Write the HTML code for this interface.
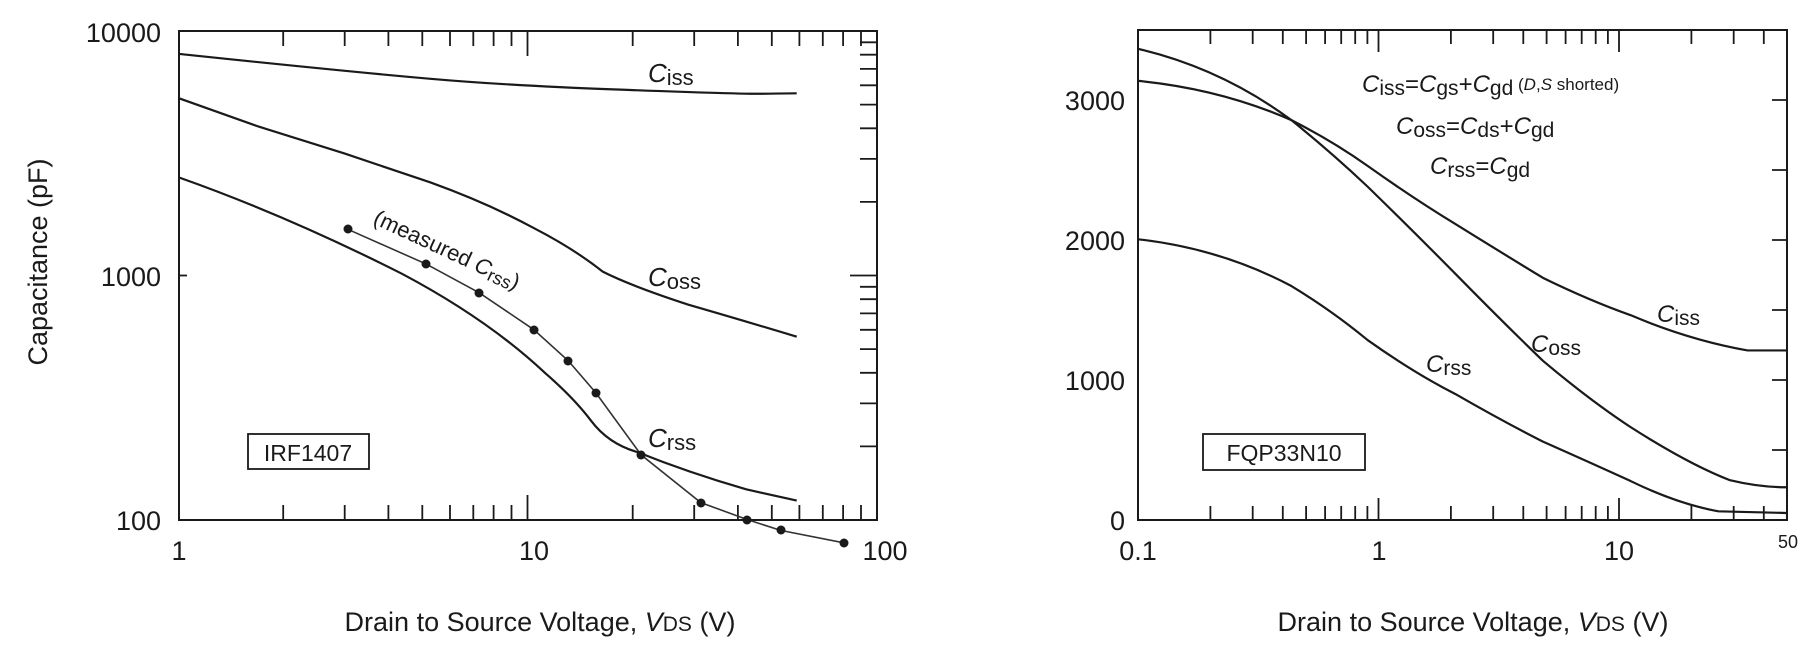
<!DOCTYPE html>
<html><head><meta charset="utf-8"><style>
html,body{margin:0;padding:0;background:#fff}
svg{display:block}
text{font-family:"Liberation Sans",sans-serif;fill:#1a1a1a}
.c{fill:none;stroke:#1a1a1a;stroke-width:2.2;vector-effect:non-scaling-stroke}
.m{fill:none;stroke:#333;stroke-width:1.6;vector-effect:non-scaling-stroke}
.t{stroke:#1a1a1a;stroke-width:1.8}
</style></head><body>
<svg width="1803" height="647" viewBox="0 0 1803 647" xmlns="http://www.w3.org/2000/svg">
<!-- LEFT PLOT -->
<rect x="179" y="31" width="698" height="489" fill="none" stroke="#1a1a1a" stroke-width="2"/>
<g class="t">
<!-- top ticks -->
<path d="M283.2 31v15M344.7 31v15M388.4 31v15M422.3 31v15M450 31v15M473.3 31v15M493.6 31v15M511.5 31v15M527.5 31v25M632.7 31v15M694.2 31v15M737.9 31v15M771.8 31v15M799.4 31v15M822.8 31v15M843.1 31v15M861 31v15"/>
<path d="M283.2 520v-15M344.7 520v-15M388.4 520v-15M422.3 520v-15M450 520v-15M473.3 520v-15M493.6 520v-15M511.5 520v-15M527.5 520v-25M632.7 520v-15M694.2 520v-15M737.9 520v-15M771.8 520v-15M799.4 520v-15M822.8 520v-15M843.1 520v-15M861 520v-15"/>
<path d="M877 446.4h-17M877 403.4h-17M877 372.8h-17M877 349.1h-17M877 329.8h-17M877 313.4h-17M877 299.2h-17M877 286.8h-17M877 275.5h-27M877 201.9h-17M877 158.9h-17M877 128.3h-17M877 104.6h-17M877 85.3h-17M877 68.9h-17M877 54.7h-17M877 42.3h-17"/>
<path d="M179 275.5h8"/>
</g>
<g transform="matrix(0.574,0,0,0.4147,0,0)">
<path class="c" d="M312,130 C450,150 600,172 750,190 S1050,215 1200,222 S1330,225 1388,225"/>
<path class="c" d="M312,237 L450,305 L600,370 L750,440 Q850,490 930,550 Q1000,600 1050,655 Q1100,690 1200,735 Q1300,775 1388,812"/>
<path class="c" d="M312,428 Q500,520 700,660 Q850,770 950,900 Q1000,960 1030,1015 Q1060,1070 1110,1090 Q1200,1140 1300,1180 L1388,1207"/>
<path class="m" d="M606,553 L743,637 L835,706 L930,795 L990,870 L1038,947 L1117,1097 L1221,1212 L1302,1253 L1360,1279 L1470,1309"/>
</g>
<g fill="#1a1a1a">
<circle cx="348" cy="229" r="4.5"/><circle cx="426" cy="264" r="4.5"/><circle cx="479" cy="293" r="4.5"/><circle cx="534" cy="330" r="4.5"/><circle cx="568" cy="361" r="4.5"/><circle cx="596" cy="393" r="4.5"/><circle cx="641" cy="455" r="4.5"/><circle cx="701" cy="503" r="4.5"/><circle cx="747" cy="520" r="4.5"/><circle cx="781" cy="530" r="4.5"/><circle cx="844" cy="543" r="4.5"/>
</g>
<g font-size="27" text-anchor="end">
<text x="161" y="42">10000</text>
<text x="161" y="286">1000</text>
<text x="161" y="530">100</text>
</g>
<g font-size="27" text-anchor="middle">
<text x="179" y="560">1</text>
<text x="534" y="560">10</text>
<text x="885" y="560">100</text>
</g>
<text transform="translate(47,262) rotate(-90)" font-size="27" text-anchor="middle">Capacitance (pF)</text>
<text x="540" y="631" font-size="27" text-anchor="middle">Drain to Source Voltage, <tspan font-style="italic">V</tspan><tspan font-size="21">DS</tspan>  (V)</text>
<text x="648" y="82" font-size="26"><tspan font-style="italic">C</tspan><tspan font-size="22" dy="3">iss</tspan></text>
<text x="648" y="286" font-size="26"><tspan font-style="italic">C</tspan><tspan font-size="22" dy="3">oss</tspan></text>
<text x="648" y="447" font-size="26"><tspan font-style="italic">C</tspan><tspan font-size="22" dy="3">rss</tspan></text>
<text transform="translate(372,223) rotate(25)" font-size="22">(measured <tspan font-style="italic">C</tspan><tspan font-size="18" dy="3">rss</tspan><tspan dy="-3">)</tspan></text>
<rect x="248" y="434" width="121" height="35" fill="#fff" stroke="#1a1a1a" stroke-width="1.8"/>
<text x="308" y="461" font-size="23" text-anchor="middle">IRF1407</text>

<!-- RIGHT PLOT -->
<rect x="1138" y="30" width="649" height="490" fill="none" stroke="#1a1a1a" stroke-width="2"/>
<g class="t">
<path d="M1210.4 30v14M1252.7 30v14M1282.8 30v14M1306.1 30v14M1325.1 30v14M1341.2 30v14M1355.2 30v14M1367.4 30v14M1378.5 30v22M1450.9 30v14M1493.2 30v14M1523.3 30v14M1546.6 30v14M1565.6 30v14M1581.7 30v14M1595.7 30v14M1607.9 30v14M1619 30v22M1691.4 30v14M1733.7 30v14M1763.8 30v14"/>
<path d="M1210.4 520v-14M1252.7 520v-14M1282.8 520v-14M1306.1 520v-14M1325.1 520v-14M1341.2 520v-14M1355.2 520v-14M1367.4 520v-14M1378.5 520v-22M1450.9 520v-14M1493.2 520v-14M1523.3 520v-14M1546.6 520v-14M1565.6 520v-14M1581.7 520v-14M1595.7 520v-14M1607.9 520v-14M1619 520v-22M1691.4 520v-14M1733.7 520v-14M1763.8 520v-14"/>
<path d="M1787 450h-15M1787 380h-15M1787 310h-15M1787 240h-15M1787 170h-15M1787 100h-15"/>
</g>
<g transform="matrix(0.5845,0,0,0.4147,900,0)">
<path class="c" d="M408,195 Q550,215 670,290 Q740,340 800,400 Q880,480 950,540 Q1030,610 1100,670 Q1180,725 1250,760 Q1350,820 1450,845 L1516,845"/>
<path class="c" d="M408,118 Q550,165 670,290 Q740,370 800,450 Q880,560 950,660 Q1030,775 1100,870 Q1180,965 1250,1030 Q1350,1120 1420,1158 Q1470,1175 1516,1175"/>
<path class="c" d="M408,577 Q550,600 670,690 Q740,750 800,820 Q880,900 950,950 Q1030,1015 1100,1065 Q1180,1115 1250,1160 Q1330,1215 1400,1233 L1516,1237"/>
</g>
<g font-size="27" text-anchor="end">
<text x="1125" y="110">3000</text>
<text x="1125" y="250">2000</text>
<text x="1125" y="390">1000</text>
<text x="1125" y="530">0</text>
</g>
<g font-size="27" text-anchor="middle">
<text x="1138" y="560">0.1</text>
<text x="1379" y="560">1</text>
<text x="1619" y="560">10</text>
</g>
<text x="1788" y="548" font-size="18" text-anchor="middle">50</text>
<text x="1473" y="631" font-size="27" text-anchor="middle">Drain to Source Voltage, <tspan font-style="italic">V</tspan><tspan font-size="21">DS</tspan>  (V)</text>
<text x="1362" y="92" font-size="24"><tspan font-style="italic">C</tspan><tspan font-size="21" dy="3">iss</tspan><tspan dy="-3">=</tspan><tspan font-style="italic">C</tspan><tspan font-size="21" dy="3">gs</tspan><tspan dy="-3">+</tspan><tspan font-style="italic">C</tspan><tspan font-size="21" dy="3">gd</tspan><tspan font-size="17" dy="-5"> (</tspan><tspan font-size="17" font-style="italic">D</tspan><tspan font-size="17">,</tspan><tspan font-size="17" font-style="italic">S</tspan><tspan font-size="17"> shorted)</tspan></text>
<text x="1396" y="134" font-size="24"><tspan font-style="italic">C</tspan><tspan font-size="21" dy="3">oss</tspan><tspan dy="-3">=</tspan><tspan font-style="italic">C</tspan><tspan font-size="21" dy="3">ds</tspan><tspan dy="-3">+</tspan><tspan font-style="italic">C</tspan><tspan font-size="21" dy="3">gd</tspan></text>
<text x="1430" y="174" font-size="24"><tspan font-style="italic">C</tspan><tspan font-size="21" dy="3">rss</tspan><tspan dy="-3">=</tspan><tspan font-style="italic">C</tspan><tspan font-size="21" dy="3">gd</tspan></text>
<text x="1657" y="322" font-size="24"><tspan font-style="italic">C</tspan><tspan font-size="21" dy="3">iss</tspan></text>
<text x="1531" y="352" font-size="24"><tspan font-style="italic">C</tspan><tspan font-size="21" dy="3">oss</tspan></text>
<text x="1426" y="372" font-size="24"><tspan font-style="italic">C</tspan><tspan font-size="21" dy="3">rss</tspan></text>
<rect x="1203" y="434" width="162" height="36" fill="#fff" stroke="#1a1a1a" stroke-width="1.8"/>
<text x="1284" y="461" font-size="23" text-anchor="middle">FQP33N10</text>
</svg>
</body></html>
